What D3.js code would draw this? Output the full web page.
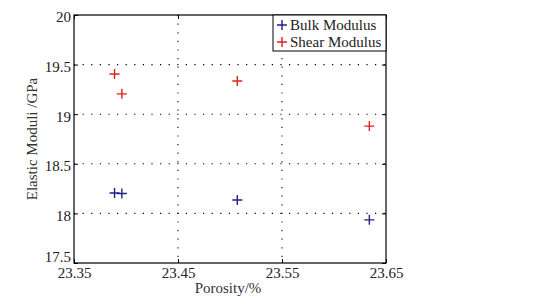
<!DOCTYPE html>
<html><head><meta charset="utf-8">
<script src="https://d3js.org/d3.v7.min.js"></script>
<style>body{margin:0;background:#fff}svg{display:block}</style>
</head><body>
<svg id="c" width="542" height="305"></svg>
<script>
const porosity = [23.389, 23.396, 23.507, 23.634];
const bulkModulus = [18.205, 18.200, 18.135, 17.935];
const shearModulus = [19.405, 19.205, 19.335, 18.880];
const xTicks = [23.35, 23.45, 23.55, 23.65];
const yTicks = [17.5, 18, 18.5, 19, 19.5, 20];
const seriesNames = ["Bulk Modulus", "Shear Modulus"];
const colors = ["#20208c", "#e3201c"];

const svg = d3.select("#c");
const FONT = "'Liberation Serif', 'Times New Roman', Times, 'DejaVu Serif', serif";
const fs = 15;
const L = 74, R = 386, T = 15, B = 263;
const x = d3.scaleLinear().domain([23.35, 23.65]).range([L, R]);
const y = d3.scaleLinear().domain([17.5, 20]).range([B, T]);

// grid
const g = svg.append("g");
g.selectAll(".gx").data(xTicks.slice(1, -1)).enter().append("line")
  .attr("x1", d => x(d)).attr("x2", d => x(d)).attr("y1", T).attr("y2", B)
  .attr("stroke", "#000").attr("stroke-width", 1.1).attr("stroke-dasharray", "1.2,7.4");
g.selectAll(".gy").data(yTicks.slice(1, -1)).enter().append("line")
  .attr("x1", L).attr("x2", R).attr("y1", d => y(d)).attr("y2", d => y(d))
  .attr("stroke", "#000").attr("stroke-width", 1.1).attr("stroke-dasharray", "1.2,7.4");

// axes
const ax = svg.append("g").attr("transform", `translate(0,${B})`)
  .call(d3.axisBottom(x).tickValues(xTicks).tickSize(-4).tickPadding(4).tickFormat(d3.format(".2f")));
const ay = svg.append("g").attr("transform", `translate(${L},0)`)
  .call(d3.axisLeft(y).tickValues(yTicks).tickSize(-4).tickPadding(3).tickFormat(d => d3.format("")(d)));
const axTop = svg.append("g").attr("transform", `translate(0,${T})`)
  .call(d3.axisTop(x).tickValues(xTicks).tickSize(-4).tickFormat(""));
const ayR = svg.append("g").attr("transform", `translate(${R},0)`)
  .call(d3.axisRight(y).tickValues(yTicks).tickSize(-4).tickFormat(""));
[ax, ay, axTop, ayR].forEach(a => {
  a.attr("font-family", FONT).attr("font-size", fs);
  a.select(".domain").remove();
  a.selectAll("line").attr("stroke", "#000");
  a.selectAll("text").style("font-family", FONT).attr("font-size", fs).attr("fill", "#222");
});
ay.selectAll("text").attr("y", d => d === yTicks[0] ? -6 : 2);
svg.append("rect").attr("x", L).attr("y", T).attr("width", R - L).attr("height", B - T)
  .attr("fill", "none").attr("stroke", "#000").attr("stroke-width", 1.2);

// markers
function plus(sel, cx, cy, col, s) {
  sel.append("path").attr("d", `M${cx - s},${cy}H${cx + s}M${cx},${cy - s}V${cy + s}`)
    .attr("stroke", col).attr("stroke-width", 1.4).attr("fill", "none");
}
const m = svg.append("g");
porosity.forEach((p, i) => {
  plus(m, x(p), y(bulkModulus[i]), colors[0], 5);
  plus(m, x(p), y(shearModulus[i]), colors[1], 5);
});

// legend
const lg = svg.append("g");
lg.append("rect").attr("x", 273).attr("y", T).attr("width", R - 273).attr("height", 36)
  .attr("fill", "#fff").attr("stroke", "#000").attr("stroke-width", 1);
seriesNames.forEach((n, i) => {
  const yy = T + 10 + i * 17;
  plus(lg, 282, yy, colors[i], 5);
  lg.append("text").attr("x", 290).attr("y", yy + 5).text(n)
    .style("font-family", FONT).attr("font-size", fs).attr("fill", "#222");
});

// labels
svg.append("text").attr("x", 228).attr("y", 293).attr("text-anchor", "middle")
  .style("font-family", FONT).attr("font-size", fs).attr("fill", "#333").text("Porosity/%");
svg.append("text").attr("transform", `translate(37,${(T + B) / 2}) rotate(-90)`).attr("text-anchor", "middle")
  .style("font-family", FONT).attr("font-size", fs).attr("fill", "#333").text("Elastic Moduli /GPa");
</script>
</body></html>
